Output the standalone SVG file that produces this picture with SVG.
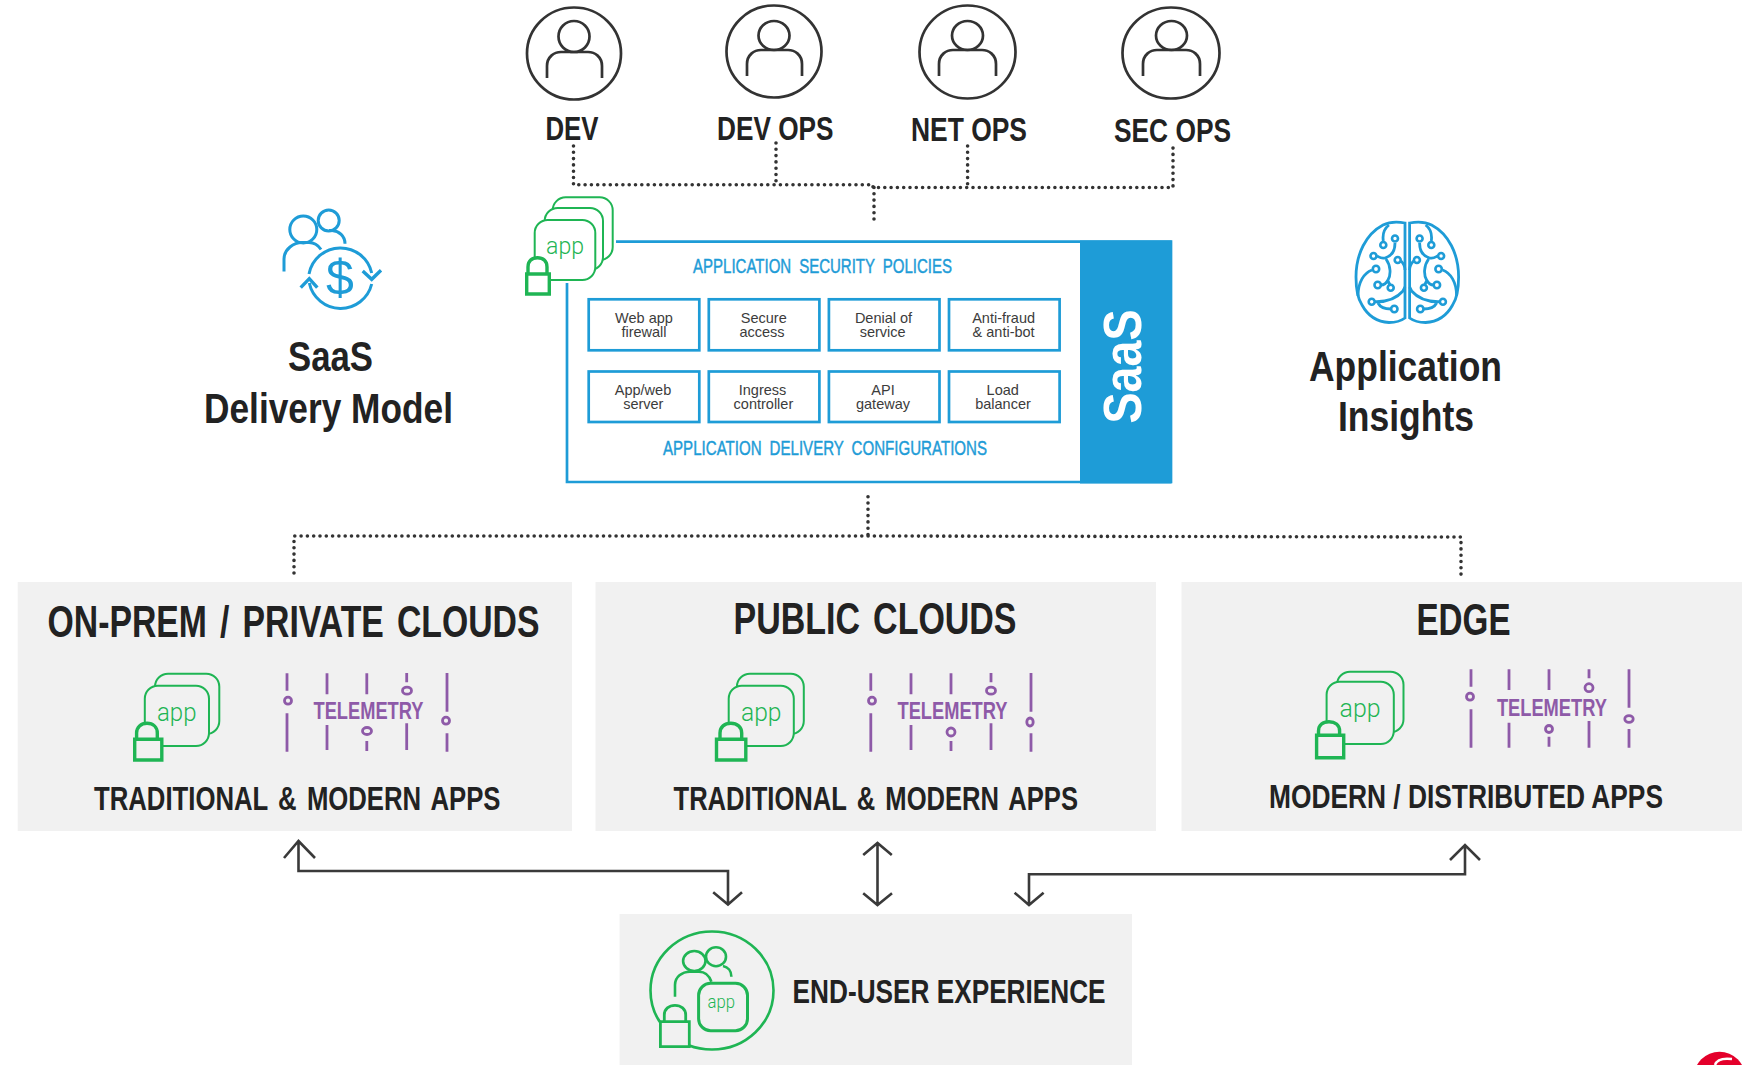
<svg xmlns="http://www.w3.org/2000/svg" width="1752" height="1065" viewBox="0 0 1752 1065">
<style>
text{font-family:"Liberation Sans",Arial,sans-serif}
.h{font-weight:700;fill:#222}
.p{fill:none;stroke:#333;stroke-width:2.7}
.dot{fill:none;stroke:#333;stroke-width:3.6;stroke-linecap:round;stroke-dasharray:0 6.3}
.arr{fill:none;stroke:#3a3a3a;stroke-width:2.6}
.panel{fill:#f1f1f1}
.gw{fill:#fff;stroke:#1fb554;stroke-width:2}
.gp{fill:#f1f1f1;stroke:#1fb554;stroke-width:2}
.lk{fill:#f1f1f1;stroke:#1fb554;stroke-width:3.4}
.app{font-family:Roboto,"Liberation Sans",sans-serif;font-weight:300;fill:#1fb554}
.t{stroke:#8e5aa8;stroke-width:2.8;fill:none}
.tx{font-weight:700;fill:#8e5aa8;font-size:23.5px}
.b{fill:none;stroke:#1e9cd7;stroke-width:2.7}
.bt{fill:#1e9cd7;font-size:20px;stroke:#1e9cd7;stroke-width:.45;word-spacing:5px}
.c{fill:#3c3c3c;font-size:14.5px;text-anchor:middle}
.br{fill:none;stroke:#1e9cd7;stroke-width:2.8}
.n{fill:#fff;stroke:#1e9cd7;stroke-width:2.6}
</style>
<defs>
<g id="brainhalf">
<path class="br" d="M1405 223C1395 221 1389 222 1383 225C1366 234 1356 254 1356 277C1356 290 1358 299 1362 305C1368 316 1378 322 1389 322.5C1396 322.5 1401 321 1405 318Z"/>
<path class="br" d="M1383.3 241C1382 232 1385 228 1389 225M1395 243C1395 250 1392 256 1385 258C1381 259 1379 257 1377 256M1372 270C1364 273 1358 282 1358 296M1386 259C1391 266 1391 275 1388 280C1386 284 1384 285 1381 285M1401 261C1403 263 1405 266 1405 270M1390 285L1388 281M1375 301.7C1385 302 1396 299 1403 291L1405 287M1378 303C1380 307 1384 309 1391 309"/>
<circle class="n" cx="1383.3" cy="245" r="3"/><circle class="n" cx="1395" cy="238.5" r="3"/><circle class="n" cx="1373.5" cy="256" r="3"/><circle class="n" cx="1376" cy="269" r="3.2"/><circle class="n" cx="1397.7" cy="260" r="3"/><circle class="n" cx="1377.7" cy="285" r="3.2"/><circle class="n" cx="1390.7" cy="287.7" r="3"/><circle class="n" cx="1371.7" cy="301.7" r="3"/><circle class="n" cx="1394.3" cy="309" r="3.2"/>
</g>
</defs>
<g id="connectors">
<path class="dot" d="M573.5 146V184.8H873V187.5H1173V148"/>
<path class="dot" d="M776 143V184.8"/>
<path class="dot" d="M967.6 146V187.5"/>
<path class="dot" d="M874 187.5V222"/>
<path class="dot" d="M868 496.7V536"/>
<path class="dot" d="M294 573V536H868L1461 537V577"/>
<path class="arr" d="M298.5 841V871H728V904M284 858L298.5 841L315 858M713.2 892.3L728 904.5L742 892.3"/>
<path class="arr" d="M877.5 843V905M863.2 855L877.5 843L891.8 855M863.2 893.3L877.5 905L892 893.3"/>
<path class="arr" d="M1029 905V874.3H1465V845M1014.6 892.7L1029 905L1043.6 892.7M1450 860L1465 845L1480 860"/>
</g>
<g id="user-dev" class="person">
<ellipse class="p" cx="574" cy="53.5" rx="47" ry="46"/><ellipse class="p" cx="574" cy="36.5" rx="15.5" ry="15.5"/><path class="p" d="M547 78V66C547 57 554 52 561 52H588C595 52 602 57 602 66V78"/>
<text class="h" x="545.5" y="140" font-size="33" textLength="53" lengthAdjust="spacingAndGlyphs">DEV</text></g>
<g id="user-devops">
<ellipse class="p" cx="774" cy="51.5" rx="47.5" ry="46"/><ellipse class="p" cx="774" cy="35.5" rx="15.5" ry="14.5"/><path class="p" d="M747 76V64C747 55 754 50 761 50H788C795 50 802 55 802 64V76"/>
<text class="h" x="717" y="140" font-size="33" textLength="116.500" lengthAdjust="spacingAndGlyphs">DEV OPS</text></g>
<g id="user-netops">
<ellipse class="p" cx="967.5" cy="52" rx="48" ry="46.5"/><ellipse class="p" cx="967.5" cy="35.5" rx="15.5" ry="14.5"/><path class="p" d="M939 76V64C939 55 946 50 953 50H982C989 50 996 55 996 64V76"/>
<text class="h" x="911" y="141" font-size="33" textLength="116" lengthAdjust="spacingAndGlyphs">NET OPS</text></g>
<g id="user-secops">
<ellipse class="p" cx="1171" cy="53" rx="48.5" ry="45.5"/><ellipse class="p" cx="1171.5" cy="35.5" rx="15.5" ry="14.5"/><path class="p" d="M1143 76V64C1143 55 1150 50 1157 50H1186C1193 50 1200 55 1200 64V76"/>
<text class="h" x="1114" y="142" font-size="33" textLength="117" lengthAdjust="spacingAndGlyphs">SEC OPS</text></g>

<g id="saas-delivery">
<g fill="none" stroke="#1e9cd7" stroke-width="3">
<ellipse cx="303.3" cy="229.500" rx="13.5" ry="13.5"/><circle cx="328.7" cy="220.500" r="10.5"/>
<path d="M284 271.500V259C284 249 294 242.500 302 242.500H309C313 242.500 318 245 321 249.500M329 230.500H332C339 231 345 236 345 243.700"/>
<path d="M309 274A32 32 0 0 1 371.7 273M371.7 284A32 32 0 0 1 309.3 283"/>
<path stroke-width="3.4" d="M362.7 271L371.7 279.300L381 270.300M300.700 287.700L309.300 278.700L317.300 287.700"/>
</g>
<text x="340" y="295" font-size="50" text-anchor="middle" fill="#1e9cd7">$</text>
<text class="h" x="288" y="371" font-size="42" textLength="85" lengthAdjust="spacingAndGlyphs">SaaS</text>
<text class="h" x="204" y="423" font-size="42" textLength="249" lengthAdjust="spacingAndGlyphs">Delivery Model</text>
</g>

<g id="saas-box">
<path class="b" d="M616 241.7H1171V482H567V283"/>
<rect x="1080" y="240.5" width="91.500" height="243" fill="#1e9cd7"/>
<text transform="translate(1140.5 423.5) rotate(-90)" font-size="54" font-weight="700" fill="#fff" textLength="114" lengthAdjust="spacingAndGlyphs">SaaS</text>
<text class="bt" x="693" y="273" textLength="259" lengthAdjust="spacingAndGlyphs">APPLICATION SECURITY POLICIES</text>
<text class="bt" x="663" y="455.3" textLength="324" lengthAdjust="spacingAndGlyphs">APPLICATION DELIVERY CONFIGURATIONS</text>
</g>
<g id="cell-waf"><rect class="b" x="588.7" y="299.3" width="110.6" height="51"/><text class="c" x="644" y="322.7">Web app</text><text class="c" x="644" y="337">firewall</text></g>
<g id="cell-secure"><rect class="b" x="708.8" y="299.3" width="110.6" height="51"/><text class="c" x="763.8" y="322.7">Secure</text><text class="c" x="762" y="337">access</text></g>
<g id="cell-dos"><rect class="b" x="828.9" y="299.3" width="110.6" height="51"/><text class="c" x="883.5" y="322.7">Denial of</text><text class="c" x="882.6" y="337">service</text></g>
<g id="cell-fraud"><rect class="b" x="949" y="299.3" width="110.6" height="51"/><text class="c" x="1003.6" y="322.7">Anti-fraud</text><text class="c" x="1003.6" y="337">&amp; anti-bot</text></g>
<g id="cell-web"><rect class="b" x="588.7" y="371.5" width="110.6" height="50.5"/><text class="c" x="643" y="395">App/web</text><text class="c" x="643.3" y="409.3">server</text></g>
<g id="cell-ingress"><rect class="b" x="708.8" y="371.5" width="110.6" height="50.5"/><text class="c" x="762.5" y="395">Ingress</text><text class="c" x="763.4" y="409.3">controller</text></g>
<g id="cell-api"><rect class="b" x="828.9" y="371.5" width="110.6" height="50.5"/><text class="c" x="883" y="395">API</text><text class="c" x="883" y="409.3">gateway</text></g>
<g id="cell-lb"><rect class="b" x="949" y="371.5" width="110.6" height="50.5"/><text class="c" x="1002.7" y="395">Load</text><text class="c" x="1003" y="409.3">balancer</text></g>

<g id="app-stack">
<rect class="gw" x="552.7" y="197.3" width="60" height="62.7" rx="13"/>
<rect class="gw" x="544.7" y="208" width="58.3" height="62" rx="13"/>
<rect class="gw" x="534.7" y="220" width="60.6" height="60" rx="13"/>
<text class="app" x="546" y="253.500" font-size="23" textLength="38" lengthAdjust="spacingAndGlyphs">app</text>
<path fill="#fff" stroke="#1fb554" stroke-width="3.4" d="M528 274V267C528 261 532 257.7 537.5 257.7S547 261 547 267V274M526.7 274H549.3V294H526.7Z"/>
</g>

<g id="insights">
<use href="#brainhalf"/>
<use href="#brainhalf" transform="translate(2814.6 0) scale(-1 1)"/>
<text class="h" x="1309" y="381" font-size="43" textLength="193" lengthAdjust="spacingAndGlyphs">Application</text>
<text class="h" x="1338" y="431" font-size="43" textLength="136" lengthAdjust="spacingAndGlyphs">Insights</text>
</g>

<g id="onprem">
<rect class="panel" x="17.7" y="582" width="554.3" height="249"/>
<text class="h" x="47.500" y="637" font-size="45" textLength="492" lengthAdjust="spacingAndGlyphs" word-spacing="5">ON-PREM / PRIVATE CLOUDS</text>
<rect class="gp" x="155" y="673.7" width="64.3" height="60.3" rx="13"/><rect class="gp" x="144.8" y="685.7" width="64.2" height="60.3" rx="13"/>
<text class="app" x="157" y="720.500" font-size="25" textLength="39.500" lengthAdjust="spacingAndGlyphs">app</text>
<path class="lk" d="M136.6 739.3V733C136.6 727 141 723.3 147 723.3S157.3 727 157.3 733V739.3M134.7 739.3H161.8V760H134.7Z"/>
<path class="t" d="M287 673.3V690.7M287 713.3V751.7M327 673.3V694.3M327 725V750M366.8 673.3V694.3M366.8 741V751M406.7 673V682.3M406.7 723.3V750M447 673V711.7M447 733.3V751.7"/>
<ellipse class="t" cx="288" cy="700.7" rx="3.5" ry="3.5"/><ellipse class="t" cx="367" cy="731" rx="4.5" ry="3.5"/><ellipse class="t" cx="407" cy="690.7" rx="4.5" ry="3.5"/><ellipse class="t" cx="446" cy="720.7" rx="3.5" ry="3.5"/>
<text class="tx" x="313.500" y="719" textLength="110" lengthAdjust="spacingAndGlyphs">TELEMETRY</text>
<text class="h" x="94" y="809.500" font-size="33" textLength="406.500" lengthAdjust="spacingAndGlyphs" word-spacing="4">TRADITIONAL &amp; MODERN APPS</text>
</g>

<g id="public">
<rect class="panel" x="595.5" y="582" width="560.5" height="249"/>
<text class="h" x="733.500" y="634" font-size="45" textLength="283" lengthAdjust="spacingAndGlyphs" word-spacing="5">PUBLIC CLOUDS</text>
<rect class="gp" x="736.9" y="673.7" width="66.9" height="60.3" rx="13"/><rect class="gp" x="728.7" y="685.7" width="65.1" height="60.3" rx="13"/>
<text class="app" x="741" y="720.500" font-size="25" textLength="40.500" lengthAdjust="spacingAndGlyphs">app</text>
<path class="lk" d="M720 739.3V733C720 727 724.5 723.3 730.8 723.3S741.7 727 741.7 733V739.3M716.5 739.3H745.8V760H716.5Z"/>
<path class="t" d="M870.8 673.3V690.7M870.8 713.3V751.7M911 673.3V694.3M911 725V750M951 673.3V694.3M951 741V751M991 673V682.3M991 723.3V750M1031 673V711.7M1031 733.3V751.7"/>
<ellipse class="t" cx="872" cy="700.7" rx="3.5" ry="3.5"/><ellipse class="t" cx="951" cy="732" rx="4" ry="4"/><ellipse class="t" cx="991" cy="690.7" rx="4.5" ry="3.5"/><ellipse class="t" cx="1030" cy="722" rx="3.2" ry="4"/>
<text class="tx" x="897.500" y="719" textLength="110" lengthAdjust="spacingAndGlyphs">TELEMETRY</text>
<text class="h" x="673.5" y="809.500" font-size="33" textLength="404.500" lengthAdjust="spacingAndGlyphs" word-spacing="4">TRADITIONAL &amp; MODERN APPS</text>
</g>

<g id="edge">
<rect class="panel" x="1181.500" y="582" width="560.5" height="249"/>
<text class="h" x="1416.500" y="634.500" font-size="45" textLength="94" lengthAdjust="spacingAndGlyphs">EDGE</text>
<rect class="gp" x="1337" y="671.7" width="66.5" height="60.6" rx="13"/><rect class="gp" x="1326.6" y="681.7" width="67.2" height="62.3" rx="13"/>
<text class="app" x="1339.6" y="717" font-size="25" textLength="41" lengthAdjust="spacingAndGlyphs">app</text>
<path class="lk" d="M1318.500 735.3V731C1318.500 725 1323 721.7 1329 721.7S1339.6 725 1339.6 731V735.3M1316.6 735.3H1343.7V757.7H1316.6Z"/>
<path class="t" d="M1471 669.3V686.7M1471 709.3V747.7M1509 669.3V690M1509 722.7V747.7M1549 669.3V690M1549 736.7V746.7M1589 669.3V678.3M1589 721V747.7M1629 669.3V707.7M1629 729V747.7"/>
<ellipse class="t" cx="1470" cy="696.7" rx="3.5" ry="3.5"/><ellipse class="t" cx="1549" cy="729" rx="3.5" ry="3.5"/><ellipse class="t" cx="1589" cy="687.7" rx="4" ry="4"/><ellipse class="t" cx="1629" cy="719" rx="4.2" ry="3.3"/>
<text class="tx" x="1496.9" y="716" textLength="110" lengthAdjust="spacingAndGlyphs">TELEMETRY</text>
<text class="h" x="1269" y="807.500" font-size="33" textLength="394" lengthAdjust="spacingAndGlyphs">MODERN / DISTRIBUTED APPS</text>
</g>

<g id="end-user">
<rect class="panel" x="619.6" y="914" width="512.4" height="151"/>
<g fill="none" stroke="#1fb554" stroke-width="2.6">
<ellipse cx="712" cy="990.5" rx="61.500" ry="59"/>
<ellipse cx="694.3" cy="961" rx="11.2" ry="10"/><ellipse cx="716" cy="956.7" rx="10" ry="9.5"/>
<path d="M675 996.7V985C675 977 682 971.700 690 971.700H699C704 971.700 709 975 711.400 981.700M723 966C728 967 731.400 971 731.400 976.700"/>
<rect x="698.6" y="983.3" width="48.9" height="47.4" rx="12" stroke-width="3"/>
</g>
<text class="app" x="707.5" y="1008.3" font-size="17.5" textLength="27.500" lengthAdjust="spacingAndGlyphs">app</text>
<path class="lk" style="stroke-width:2.8" d="M664.3 1021.7V1015C664.3 1009 669 1005.3 675 1005.3S685.7 1009 685.7 1015V1021.7M660.4 1021.7H689.3V1046.7H660.4Z"/>
<text class="h" x="792.6" y="1003.300" font-size="33" textLength="313" lengthAdjust="spacingAndGlyphs">END-USER EXPERIENCE</text>
</g>

<g id="corner-logo">
<circle cx="1719.5" cy="1077.4" r="25.7" fill="#e4002b"/>
<path d="M1715 1065C1717 1059 1724 1058 1732 1059" fill="none" stroke="#fff" stroke-width="2.5"/>
</g>
</svg>
